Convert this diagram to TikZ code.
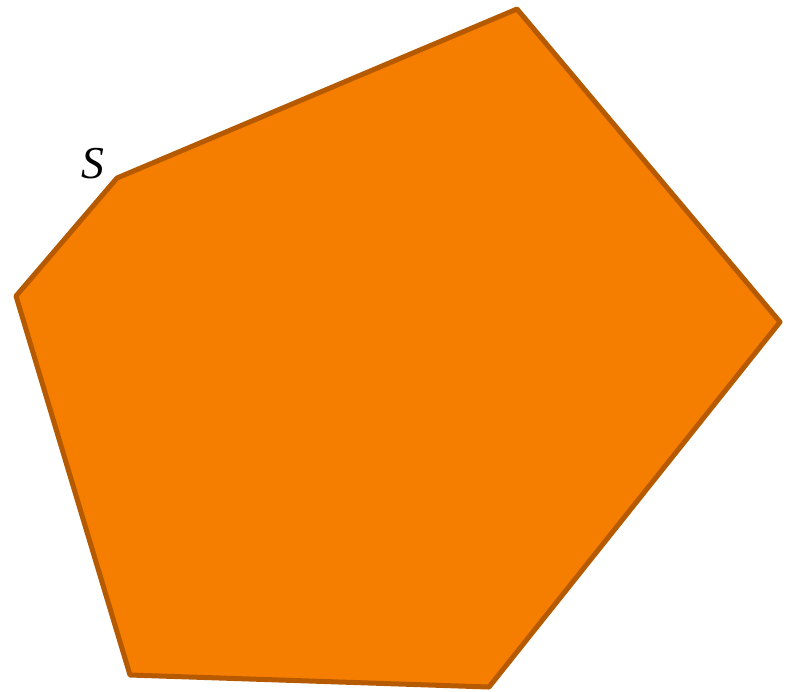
\documentclass[tikz,border=0pt]{standalone}
\usepackage{fontspec}
\setmainfont{Liberation Serif}
\usetikzlibrary{positioning}
\definecolor{hullfill}{HTML}{F57D00}
\definecolor{hulledge}{HTML}{B55A00}
\begin{document}
\begin{tikzpicture}[
      x=0.02cm, y=-0.02cm,
      hull/.style={draw=hulledge, fill=hullfill, line width=0.1cm, line join=round},
      vlabel/.style={font=\fontsize{26}{30}\selectfont\itshape, inner sep=0pt}
    ]
    \useasboundingbox (0,0) rectangle (786,691);
    % vertices of the polygon
    \coordinate (s) at (117,178);
    \coordinate (top) at (517,9);
    \coordinate (right) at (780,322);
    \coordinate (botright) at (489,687);
    \coordinate (botleft) at (130,675);
    \coordinate (left) at (16,296);

    \draw[hull] (s) -- (top) -- (right) -- (botright) -- (botleft) -- (left) -- cycle;
    \node[vlabel] (slabel) at (93,164) {S};
  \end{tikzpicture}
\end{document}
